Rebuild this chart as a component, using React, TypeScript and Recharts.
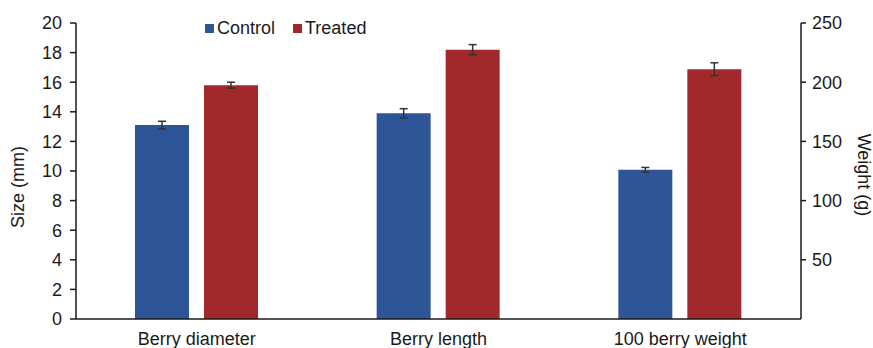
import { BarChart, Bar, XAxis, YAxis, Legend, ErrorBar, Label } from "recharts";

const categories = ["Berry diameter", "Berry length", "100 berry weight"];

// size in mm (left axis)
const controlSize = [13.1, 13.9, null];
const treatedSize = [15.8, 18.2, null];
const controlSizeErr = [0.26, 0.31, null];
const treatedSizeErr = [0.2, 0.34, null];

// weight in g (right axis)
const controlWeight = [null, null, 126];
const treatedWeight = [null, null, 211];
const controlWeightErr = [null, null, 2];
const treatedWeightErr = [null, null, 5.4];

const sizeTicks = [0, 2, 4, 6, 8, 10, 12, 14, 16, 18, 20];
const weightTicks = [50, 100, 150, 200, 250];

const BLUE = "#2E5597";
const RED = "#A2292B";
const INK = "#1a1a1a";
const FONT = "'Liberation Sans', Arial, sans-serif";
const FS = 18;

const data = categories.map((name, i) => ({
	name,
	control: controlSize[i],
	treated: treatedSize[i],
	controlErr: controlSizeErr[i],
	treatedErr: treatedSizeErr[i],
	controlW: controlWeight[i],
	treatedW: treatedWeight[i],
	controlWErr: controlWeightErr[i],
	treatedWErr: treatedWeightErr[i],
}));

const tick = { fontSize: FS, fill: INK, fontFamily: FONT };

function LegendBox() {
	const items = [
		{ label: "Control", fill: BLUE },
		{ label: "Treated", fill: RED },
	];
	return (
		<div style={{ display: "flex", gap: 18, fontFamily: FONT, fontSize: FS, color: INK, lineHeight: "20px" }}>
			{items.map((it) => (
				<div key={it.label} style={{ display: "flex", alignItems: "center" }}>
					<span style={{ width: 9, height: 9, background: it.fill, marginRight: 3, display: "inline-block" }} />
					{it.label}
				</div>
			))}
		</div>
	);
}

export default function App() {
	return (
		<div style={{ position: "absolute", left: 0, top: 0, background: "#fff" }}>
			<BarChart
				width={873}
				height={348}
				data={data}
				margin={{ top: 23, right: 0, left: 0, bottom: 0 }}
				barSize={54}
				barGap={15}
			>
				<XAxis
					dataKey="name"
					xAxisId="main"
					height={29}
					tick={tick}
					tickLine={false}
					tickMargin={7}
					axisLine={{ stroke: INK, strokeWidth: 1.5 }}
				/>
				<XAxis dataKey="name" xAxisId="weight" height={29} hide />
				<YAxis
					yAxisId="left"
					width={76}
					domain={[0, 20]}
					ticks={sizeTicks}
					interval={0}
					tick={tick}
					tickSize={6}
					tickMargin={8}
					tickLine={{ stroke: INK, strokeWidth: 1.5 }}
					axisLine={{ stroke: INK, strokeWidth: 1.5 }}
				>
					<Label
						content={({ viewBox }: any) => {
							const cy = viewBox.y + viewBox.height / 2 + 16;
							return (
								<text
									x={18}
									y={cy}
									transform={`rotate(-90 18 ${cy})`}
									textAnchor="middle"
									dominantBaseline="central"
									fontSize={FS}
									fontFamily={FONT}
									fill={INK}
								>
									Size (mm)
								</text>
							);
						}}
					/>
				</YAxis>
				<YAxis
					yAxisId="right"
					orientation="right"
					width={72}
					domain={[0, 250]}
					ticks={weightTicks}
					interval={0}
					tick={tick}
					tickSize={5}
					tickMargin={6}
					tickLine={{ stroke: INK, strokeWidth: 1.5 }}
					axisLine={{ stroke: INK, strokeWidth: 1.5 }}
				>
					<Label
						content={({ viewBox }: any) => {
							const cy = viewBox.y + viewBox.height / 2 + 4;
							return (
								<text
									x={864}
									y={cy}
									transform={`rotate(90 864 ${cy})`}
									textAnchor="middle"
									dominantBaseline="central"
									fontSize={FS}
									fontFamily={FONT}
									fill={INK}
								>
									Weight (g)
								</text>
							);
						}}
					/>
				</YAxis>
				<Legend
					layout="horizontal"
					verticalAlign="middle"
					align="center"
					wrapperStyle={{ top: 18, left: 205, width: "auto" }}
					content={() => <LegendBox />}
				/>
				<Bar dataKey="control" name="Control" xAxisId="main" yAxisId="left" fill={BLUE} isAnimationActive={false}>
					<ErrorBar dataKey="controlErr" width={4} stroke="#333" strokeWidth={1.5} />
				</Bar>
				<Bar dataKey="treated" name="Treated" xAxisId="main" yAxisId="left" fill={RED} isAnimationActive={false}>
					<ErrorBar dataKey="treatedErr" width={4} stroke="#333" strokeWidth={1.5} />
				</Bar>
				<Bar dataKey="controlW" name="Control" xAxisId="weight" yAxisId="right" fill={BLUE} isAnimationActive={false}>
					<ErrorBar dataKey="controlWErr" width={4} stroke="#333" strokeWidth={1.5} />
				</Bar>
				<Bar dataKey="treatedW" name="Treated" xAxisId="weight" yAxisId="right" fill={RED} isAnimationActive={false}>
					<ErrorBar dataKey="treatedWErr" width={4} stroke="#333" strokeWidth={1.5} />
				</Bar>
			</BarChart>
		</div>
	);
}
